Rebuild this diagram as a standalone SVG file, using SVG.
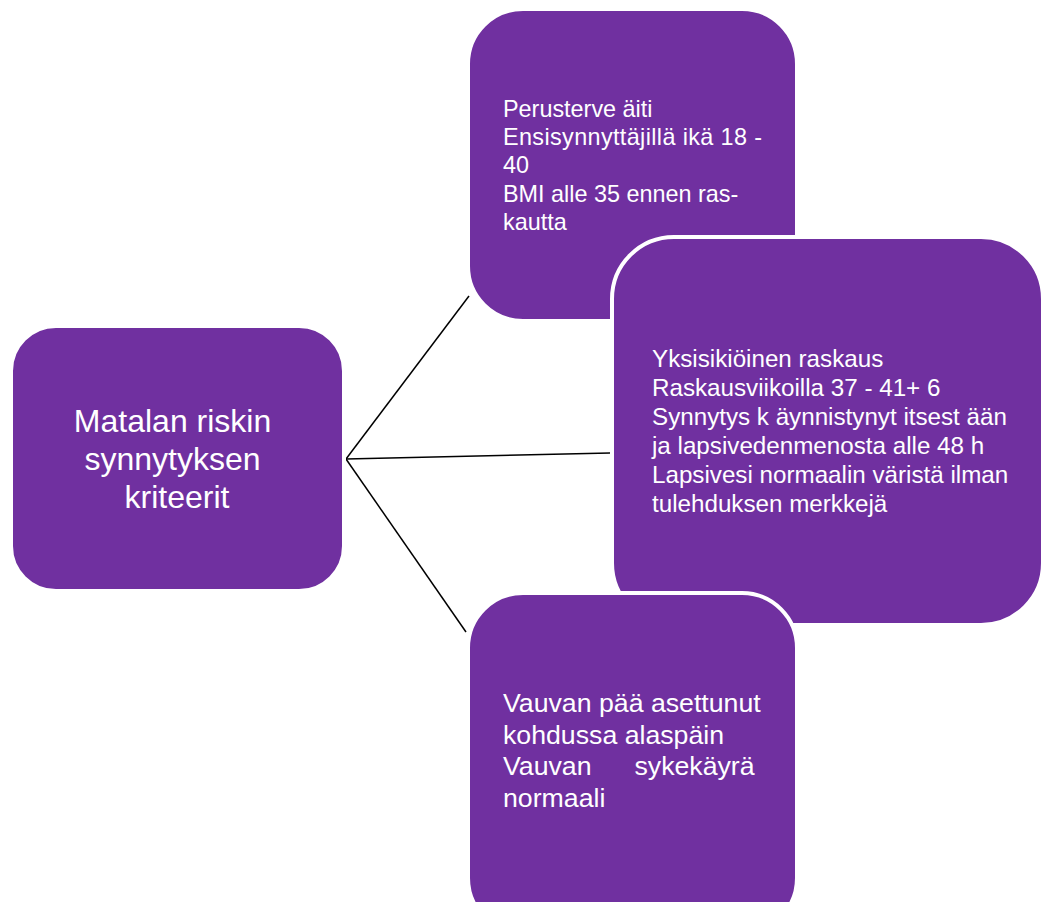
<svg xmlns="http://www.w3.org/2000/svg" width="1041" height="902" viewBox="0 0 1041 902">
  <style>
    .box { fill: #7030A0; stroke: #ffffff; stroke-width: 4; }
    .txt { fill: #ffffff; font-family: "Liberation Sans", Arial, sans-serif; }
    .link { stroke: #000000; stroke-width: 1.5; fill: none; }
  </style>
  <rect width="1041" height="902" fill="#ffffff"/>

  <!-- connectors from the hub to each criteria box -->
  <g id="connectors">
    <line class="link" x1="346" y1="459" x2="469" y2="296"/>
    <line class="link" x1="346" y1="459" x2="610" y2="453"/>
    <line class="link" x1="346" y1="459" x2="466" y2="632"/>
  </g>

  <g id="hub">
    <rect class="box" x="11" y="326" width="333" height="265" rx="45"/>
    <text class="txt" font-size="32" text-anchor="middle">
      <tspan x="177" y="432">Matalan riskin</tspan>
      <tspan x="177" y="470">synnytyksen</tspan>
      <tspan x="177" y="508">kriteerit</tspan>
    </text>
  </g>

  <g id="mother">
    <rect class="box" x="468" y="9" width="329" height="312" rx="55"/>
    <text class="txt" font-size="23.4">
      <tspan x="503" y="117">Perusterve äiti</tspan>
      <tspan x="503" y="145" textLength="259" lengthAdjust="spacing">Ensisynnyttäjillä ikä 18 -</tspan>
      <tspan x="503" y="173">40</tspan>
      <tspan x="503" y="202">BMI alle 35 ennen ras-</tspan>
      <tspan x="503" y="230">kautta</tspan>
    </text>
  </g>

  <g id="pregnancy">
    <rect class="box" x="612" y="237" width="431" height="388" rx="62"/>
    <text class="txt" font-size="24.2">
      <tspan x="652" y="367">Yksisikiöinen raskaus</tspan>
      <tspan x="652" y="396">Raskausviikoilla 37 - 41+ 6</tspan>
      <tspan x="652" y="425">Synnytys k äynnistynyt itsest ään</tspan>
      <tspan x="652" y="454">ja lapsivedenmenosta alle 48 h</tspan>
      <tspan x="652" y="483">Lapsivesi normaalin väristä ilman</tspan>
      <tspan x="652" y="512">tulehduksen merkkejä</tspan>
    </text>
  </g>

  <g id="baby">
    <rect class="box" x="468" y="593" width="329" height="340" rx="55"/>
    <text class="txt" font-size="26.7">
      <tspan x="503" y="712">Vauvan pää asettunut</tspan>
      <tspan x="503" y="744">kohdussa alaspäin</tspan>
      <tspan x="503" y="775">Vauvan</tspan>
      <tspan x="762" y="775" text-anchor="end">sykekäyrä</tspan>
      <tspan x="503" y="807">normaali</tspan>
    </text>
  </g>
</svg>
